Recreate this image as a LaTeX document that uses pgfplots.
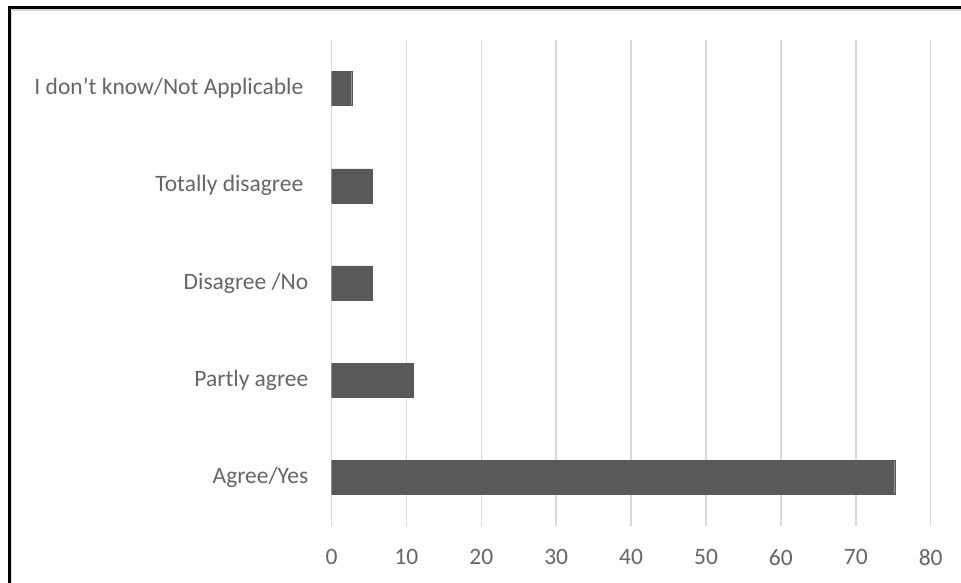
\documentclass[border=0pt]{standalone}
\usepackage{fontspec}
\setmainfont{Carlito}
\usepackage{pgfplots}
\pgfplotsset{compat=1.18}
\definecolor{barcol}{HTML}{595959}
\definecolor{txtcol}{HTML}{666666}
\definecolor{gridcol}{HTML}{D9D9D9}
\begin{document}
\begin{tikzpicture}
\useasboundingbox (0,0) rectangle (961bp,583bp);
\fill[white] (0,0) rectangle (961bp,583bp);
\draw[gridcol, line width=1.5bp] (11bp,0) -- (11bp,573bp) -- (961bp,573bp);
\draw[black, line width=3bp] (9bp,0) -- (9bp,575bp) -- (961bp,575bp);
\begin{axis}[
  at={(331.5bp,57bp)}, anchor=south west,
  scale only axis,
  width=599.2bp, height=486bp,
  xbar, bar width=34bp,
  xmin=0, xmax=80,
  ymin=-0.5, ymax=4.5,
  xtick={0,10,...,80},
  ytick={0,1,2,3,4},
  yticklabels={Agree/Yes, Partly agree, Disagree /No, {Totally disagree\hspace*{5bp}}, {I don’t know/Not Applicable\hspace*{5bp}}},
  axis line style={draw=none},
  major tick length=0pt,
  xmajorgrids,
  major grid style={gridcol, line width=1.5bp},
  /pgf/number format/assume math mode=true,
  tick label style={font=\fontsize{23.5bp}{28bp}\selectfont, text=txtcol, inner sep=0pt},
  xticklabel style={anchor=north, yshift=-23bp},
  yticklabel style={anchor=east, xshift=-23bp},
]
\addplot[fill=barcol, draw=barcol] coordinates {
  (75.2,0) (10.9,1) (5.45,2) (5.45,3) (2.7,4)
};
\end{axis}
\end{tikzpicture}
\end{document}
